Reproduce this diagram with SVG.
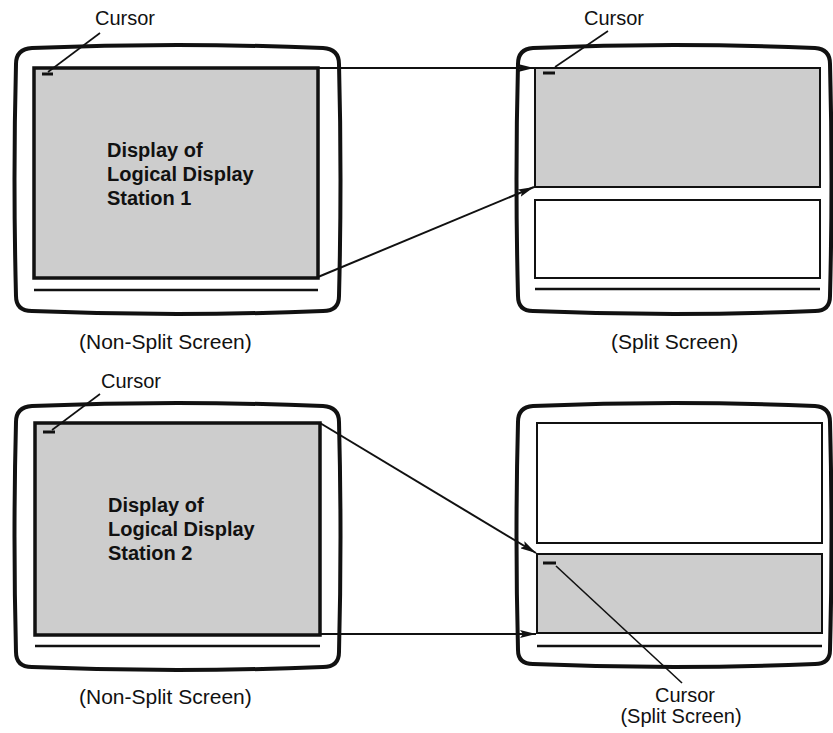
<svg xmlns="http://www.w3.org/2000/svg" width="833" height="733" viewBox="0 0 833 733">
<defs>
<style>
.bezel{fill:none;stroke:#111;stroke-width:4;stroke-linejoin:round}
.scr{fill:#cdcdcd;stroke:#111;stroke-width:3.5}
.pane{fill:#fff;stroke:#111;stroke-width:2}
.pane-g{fill:#cdcdcd;stroke:#111;stroke-width:2}
.base{stroke:#111;stroke-width:2.5;fill:none}
.cur{stroke:#111;stroke-width:3}
.lead{stroke:#111;stroke-width:1.6;fill:none}
.conn{stroke:#111;stroke-width:2;fill:none;marker-end:url(#ah)}
.lbl{font-family:"Liberation Sans",Arial,sans-serif;font-size:20px;fill:#111}
.cap{font-family:"Liberation Sans",Arial,sans-serif;font-size:21px;fill:#111}
.big{font-family:"Liberation Sans",Arial,sans-serif;font-size:20px;font-weight:bold;fill:#111}
</style>
<marker id="ah" viewBox="0 0 16 8" refX="16" refY="4" markerWidth="16" markerHeight="8" markerUnits="userSpaceOnUse" orient="auto">
<path d="M0,0 L16,4 L0,8 L3,4 Z" fill="#111"/>
</marker>
</defs>

<g id="monitor-tl">
<path class="bezel" d="M32 48 Q177 42 323 48 Q339 49 339 64 Q342 179 339 296 Q339 311 323 311 Q177 317 32 311 Q16 311 16 296 Q13 179 16 64 Q16 49 32 48 Z"/>
<rect class="scr" x="34" y="68" width="284" height="210"/>
<line class="base" x1="34" y1="290" x2="318" y2="290"/>
<line class="cur" x1="42" y1="74" x2="53" y2="74"/>
<line class="lead" x1="100" y1="33" x2="48" y2="72"/>
<text class="lbl" x="95" y="25">Cursor</text>
<text class="big" x="107" y="157">Display of</text>
<text class="big" x="107" y="181">Logical Display</text>
<text class="big" x="107" y="205">Station 1</text>
<text class="cap" x="79" y="349">(Non-Split Screen)</text>
</g>

<g id="monitor-tr">
<path class="bezel" d="M533 48 Q674 42 815 48 Q830 49 830 64 Q833 179 830 296 Q830 311 815 311 Q674 317 533 311 Q518 311 518 296 Q515 179 518 64 Q518 49 533 48 Z"/>
<rect class="pane-g" x="535" y="68" width="285" height="119"/>
<rect class="pane" x="535" y="200" width="285" height="78"/>
<line class="base" x1="535" y1="289" x2="820" y2="289"/>
<line class="cur" x1="543" y1="73" x2="555" y2="73"/>
<line class="lead" x1="608" y1="31" x2="555" y2="67"/>
<text class="lbl" x="584" y="25">Cursor</text>
<text class="cap" x="611" y="349">(Split Screen)</text>
</g>

<g id="monitor-bl">
<path class="bezel" d="M32 406 Q177 400 323 406 Q339 407 339 422 Q342 537 339 652 Q339 667 323 667 Q177 673 32 667 Q16 667 16 652 Q13 537 16 422 Q16 407 32 406 Z"/>
<rect class="scr" x="35" y="423" width="285" height="212"/>
<line class="base" x1="35" y1="646" x2="320" y2="646"/>
<line class="cur" x1="43" y1="432" x2="55" y2="432"/>
<line class="lead" x1="100" y1="394" x2="52" y2="430"/>
<text class="lbl" x="101" y="388">Cursor</text>
<text class="big" x="108" y="512">Display of</text>
<text class="big" x="108" y="536">Logical Display</text>
<text class="big" x="108" y="560">Station 2</text>
<text class="cap" x="79" y="704">(Non-Split Screen)</text>
</g>

<g id="monitor-br">
<path class="bezel" d="M533 406 Q674 400 815 406 Q830 407 830 422 Q833 537 830 650 Q830 664 815 664 Q674 670 533 664 Q518 664 518 650 Q515 537 518 422 Q518 407 533 406 Z"/>
<rect class="pane" x="537" y="423" width="285" height="120"/>
<rect class="pane-g" x="537" y="554" width="285" height="79"/>
<line class="base" x1="537" y1="646" x2="822" y2="646"/>
<line class="cur" x1="543" y1="563" x2="556" y2="563"/>
<line class="lead" x1="556" y1="566" x2="682" y2="683"/>
<text class="lbl" x="685" y="702" text-anchor="middle">Cursor</text>
<text class="lbl" x="681" y="723" text-anchor="middle">(Split Screen)</text>
</g>

<g id="connectors">
<line class="conn" x1="318" y1="68" x2="534" y2="68"/>
<line class="conn" x1="318" y1="277" x2="534" y2="187"/>
<line class="conn" x1="320" y1="423" x2="536" y2="553"/>
<line class="conn" x1="320" y1="634" x2="536" y2="634"/>
</g>
</svg>
